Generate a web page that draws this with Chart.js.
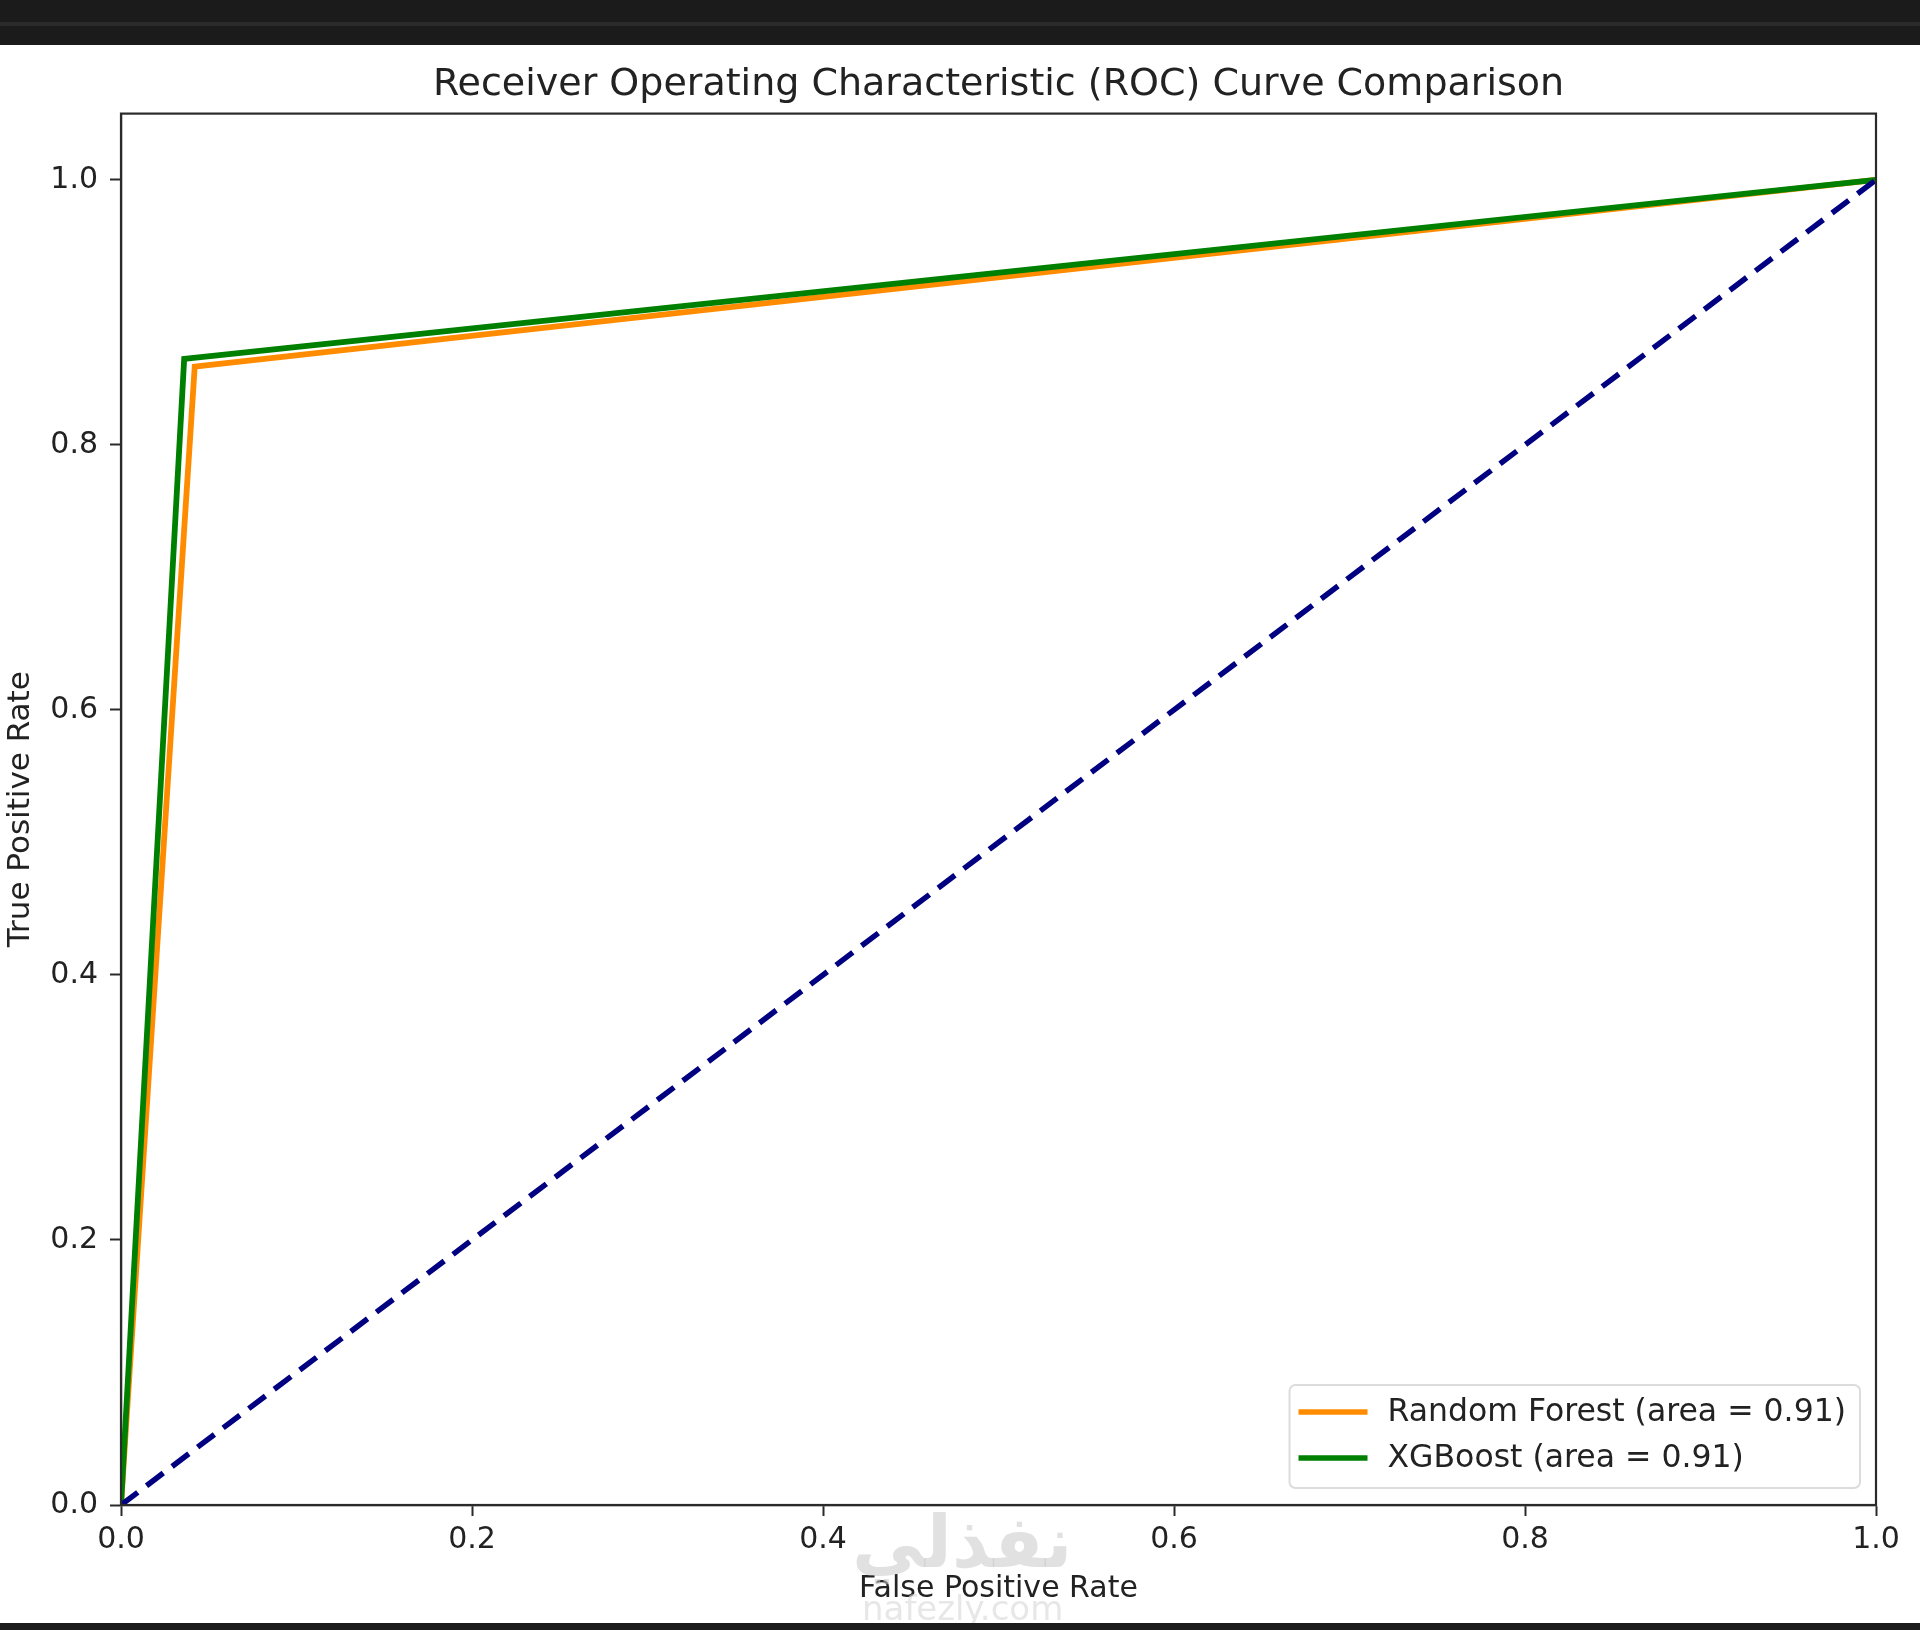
<!DOCTYPE html>
<html>
<head>
<meta charset="utf-8">
<script src="https://cdn.jsdelivr.net/npm/chart.js@4.4.1/dist/chart.umd.min.js"></script>
<style>
  html, body { margin: 0; padding: 0; background: #fff; }
  #page { position: relative; width: 1920px; height: 1630px; overflow: hidden; background: #fff; }
  #topbar { position: absolute; left: 0; top: 0; width: 1920px; height: 45px; background: #1b1b1b; }
  #topline { position: absolute; left: 0; top: 22px; width: 1920px; height: 4px; background: #2b2b2b; }
  #bottombar { position: absolute; left: 0; top: 1623px; width: 1920px; height: 7px; background: #1b1b1b; }
  #wrap { position: absolute; left: 0; top: 45px; width: 1920px; height: 1578px; }
  .wm { position: absolute; color: rgba(200,200,200,0.55); font-family: "DejaVu Sans", sans-serif; font-weight: bold; pointer-events: none; white-space: nowrap; }
</style>
</head>
<body>
<div id="page">
  <div id="topbar"></div>
  <div id="topline"></div>
  <div id="wrap"><canvas id="rocChart"></canvas></div>
  <div class="wm" style="left:852px; top:1494px; font-size:72px; line-height:96px;">نفذلي</div>
  <div class="wm" style="left:862px; top:1590px; font-size:34px; line-height:36px; font-weight:normal; color:rgba(215,215,215,0.6);">nafezly.com</div>
  <div id="bottombar"></div>
</div>
<script>
// ROC points
var fprRF = [0, 0.042, 1];
var tprRF = [0, 0.859, 1];
var fprXGB = [0, 0.036, 1];
var tprXGB = [0, 0.865, 1];
var fprChance = [0, 1];
var tprChance = [0, 1];

var labelRF = 'Random Forest (area = 0.91)';
var labelXGB = 'XGBoost (area = 0.91)';

var xTicks = [0, 0.2, 0.4, 0.6, 0.8, 1.0];
var yTicks = [0, 0.2, 0.4, 0.6, 0.8, 1.0];

function toPoints(xs, ys) {
  var pts = [];
  for (let i = 0; i < xs.length; i++) {
    pts.push({x: xs[i], y: ys[i]});
  }
  return pts;
}

var textColor = '#222';
var fontFamily = '"DejaVu Sans", sans-serif';

// matplotlib style frame round the axes
var framePlugin = {
  id: 'frame',
  afterDatasetsDraw: function (chart) {
    var a = chart.chartArea;
    var ctx = chart.ctx;
    ctx.save();
    ctx.strokeStyle = '#2a2a2a';
    ctx.lineWidth = 2.2;
    ctx.strokeRect(a.left, a.top, a.right - a.left, a.bottom - a.top);
    ctx.restore();
  }
};

// legend drawn inside the plot, lower right
var boxLegend = {
  id: 'boxLegend',
  afterDraw: function (chart) {
    var a = chart.chartArea;
    var ctx = chart.ctx;
    var items = chart.data.datasets.filter(function (d) { return d.legendRow != null; });
    items.sort(function (p, q) { return p.legendRow - q.legendRow; });
    ctx.save();
    ctx.font = '31.5px ' + fontFamily;
    var maxW = 0;
    items.forEach(function (d) { maxW = Math.max(maxW, ctx.measureText(d.label).width); });
    var rowH = 46;
    var boxW = 9 + 69 + 20 + maxW + 14;
    var boxH = 103;
    var right = a.right - 16;
    var bottom = a.bottom - 17;
    var left = right - boxW;
    var top = bottom - boxH;
    ctx.beginPath();
    ctx.roundRect(left, top, boxW, boxH, 6);
    ctx.fillStyle = 'rgba(255,255,255,0.85)';
    ctx.fill();
    ctx.strokeStyle = '#dcdcdc';
    ctx.lineWidth = 2;
    ctx.stroke();
    items.forEach(function (d, i) {
      var cy = top + 27 + i * rowH;
      ctx.beginPath();
      ctx.moveTo(left + 9, cy);
      ctx.lineTo(left + 78, cy);
      ctx.strokeStyle = d.borderColor;
      ctx.lineWidth = 5.5;
      ctx.stroke();
      ctx.fillStyle = textColor;
      ctx.textBaseline = 'middle';
      ctx.textAlign = 'left';
      ctx.fillText(d.label, left + 98, cy + 1);
    });
    ctx.restore();
  }
};

var ctx = document.getElementById('rocChart');
var chart = new Chart(ctx, {
  type: 'scatter',
  data: {
    datasets: [
      {
        label: '',
        data: toPoints(fprChance, tprChance),
        showLine: true,
        borderColor: '#000080',
        borderWidth: 5.5,
        borderDash: [21, 11],
        pointRadius: 0,
        order: 0
      },
      {
        label: labelXGB,
        data: toPoints(fprXGB, tprXGB),
        showLine: true,
        borderColor: '#008000',
        borderWidth: 5.8,
        pointRadius: 0,
        order: 1,
        legendRow: 1
      },
      {
        label: labelRF,
        data: toPoints(fprRF, tprRF),
        showLine: true,
        borderColor: '#ff8c00',
        borderWidth: 5.8,
        pointRadius: 0,
        order: 2,
        legendRow: 0
      }
    ]
  },
  options: {
    responsive: true,
    maintainAspectRatio: false,
    animation: false,
    devicePixelRatio: 1,
    layout: { padding: { left: 0, right: 44, top: 0, bottom: 0 } },
    scales: {
      x: {
        type: 'linear',
        min: 0,
        max: 1,
        afterFit: function (scale) { scale.height = 118; },
        afterBuildTicks: function (scale) { scale.ticks = xTicks.map(function (v) { return {value: v}; }); },
        ticks: {
          color: textColor,
          font: { family: fontFamily, size: 30 },
          padding: 6,
          maxRotation: 0,
          autoSkip: false,
          callback: function (v) { return Number(v).toFixed(1); }
        },
        grid: { drawOnChartArea: false, drawTicks: true, tickLength: 11, tickWidth: 2, tickColor: '#2a2a2a' },
        border: { display: true, color: '#2a2a2a', width: 2.2 },
        title: {
          display: true,
          text: 'False Positive Rate',
          color: textColor,
          font: { family: fontFamily, size: 30 },
          padding: { top: 0, bottom: 16 }
        }
      },
      y: {
        type: 'linear',
        min: 0,
        max: 1.05,
        afterFit: function (scale) { scale.width = 121; },
        afterBuildTicks: function (scale) { scale.ticks = yTicks.map(function (v) { return {value: v}; }); },
        ticks: {
          color: textColor,
          font: { family: fontFamily, size: 30 },
          padding: 12,
          autoSkip: false,
          callback: function (v) { return Number(v).toFixed(1); }
        },
        grid: { drawOnChartArea: false, drawTicks: true, tickLength: 11, tickWidth: 2, tickColor: '#2a2a2a' },
        border: { display: true, color: '#2a2a2a', width: 2.2 },
        title: {
          display: true,
          text: 'True Positive Rate',
          color: textColor,
          font: { family: fontFamily, size: 31 },
          padding: { top: 2, bottom: 0 }
        }
      }
    },
    plugins: {
      legend: { display: false },
      tooltip: { enabled: false },
      title: {
        display: true,
        text: 'Receiver Operating Characteristic (ROC) Curve Comparison',
        color: textColor,
        fullSize: false,
        font: { family: fontFamily, size: 38, weight: 'normal' },
        padding: { top: 17, bottom: 6 }
      }
    }
  },
  plugins: [framePlugin, boxLegend]
});
</script>
</body>
</html>
